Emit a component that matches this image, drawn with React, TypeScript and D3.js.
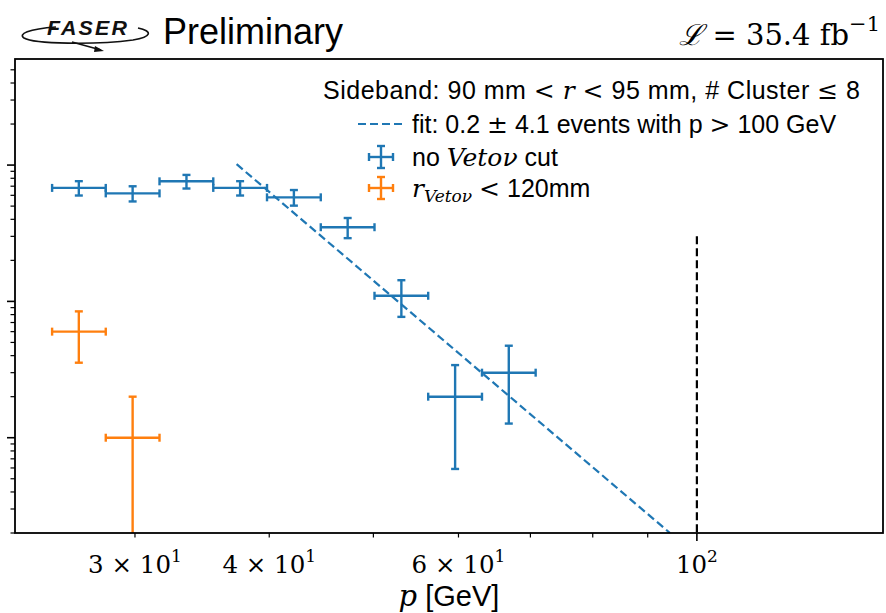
import React from 'react';
import * as d3 from 'd3';

// Bin edges (GeV) and centres
const binLow = [25.12, 28.18, 31.62, 35.48, 39.81, 44.67, 50.12, 56.23, 63.1];
const binHigh = [28.18, 31.62, 35.48, 39.81, 44.67, 50.12, 56.23, 63.1, 70.79];
const binCenter = [26.6, 29.85, 33.5, 37.58, 42.17, 47.32, 53.09, 59.57, 66.83];

// Series: no Veto-nu cut (blue)
const blueCounts = [68, 62, 76, 68, 58, 35, 11, 2, 3];
const blueErr = [8.2, 7.9, 8.7, 8.2, 7.6, 5.9, 3.3, 1.41, 1.73];

// Series: r_Vetonu < 120mm (orange), in bins 0 and 1
const orangeBins = [0, 1];
const orangeCounts = [6, 1];
const orangeErr = [2.45, 1.0];

// Fit line endpoints (p, events)
const fitP = [37.3, 94.4];
const fitN = [101.5, 0.2];

// Vertical cut line
const cutP = 100;
const cutTop = 30;

const xTicksMinor = [30, 40, 50, 60, 70, 80, 90];
const xTicksMajor = [100];
const xTickLabels = [
  { v: 30, base: '3 × 10', exp: '1' },
  { v: 40, base: '4 × 10', exp: '1' },
  { v: 60, base: '6 × 10', exp: '1' },
  { v: 100, base: '10', exp: '2' },
];
const yTicksMajor = [1, 10, 100];
const yTicksMinor = [0.2, 0.3, 0.4, 0.5, 0.6, 0.7, 0.8, 0.9, 2, 3, 4, 5, 6, 7, 8, 9, 20, 30, 40, 50, 60, 70, 80, 90, 200, 300, 400, 500];

const BLUE = '#1f77b4';
const ORANGE = '#ff7f0e';
const SANS = '"Liberation Sans", Arial, Helvetica, sans-serif';
const SERIF = '"DejaVu Serif", "Liberation Serif", serif';

export default function App() {
  const W = 886, H = 613;
  const left = 15, right = 883, top = 59, bottom = 533;
  const x = d3.scaleLog().domain([23.2, 149]).range([left, right]);
  const y = d3.scaleLog().domain([0.2, 600]).range([bottom, top]);
  const yc = (v: number) => (v <= 0.2 ? bottom : y(v));
  const cap = 4;
  const lw = 2.4;
  const LF = 25;

  const errorBar = (lo: number, hi: number, c: number, val: number, err: number, color: string, key: string) => {
    const cx = x(c);
    const cy = y(val);
    const xl = x(lo), xh = x(hi);
    const yt = yc(val + err), yb = yc(val - err);
    return (
      <g key={key} stroke={color} strokeWidth={lw} fill="none">
        <line x1={xl} x2={xh} y1={cy} y2={cy} />
        <line x1={xl} x2={xl} y1={cy - cap} y2={cy + cap} />
        <line x1={xh} x2={xh} y1={cy - cap} y2={cy + cap} />
        <line x1={cx} x2={cx} y1={yt} y2={yb} />
        <line x1={cx - cap} x2={cx + cap} y1={yt} y2={yt} />
        {val - err > 0.2 && <line x1={cx - cap} x2={cx + cap} y1={yb} y2={yb} />}
      </g>
    );
  };

  const legendCross = (cx: number, cy: number, color: string) => (
    <g stroke={color} strokeWidth={lw} fill="none">
      <line x1={cx - 12} x2={cx + 12} y1={cy} y2={cy} />
      <line x1={cx - 12} x2={cx - 12} y1={cy - cap} y2={cy + cap} />
      <line x1={cx + 12} x2={cx + 12} y1={cy - cap} y2={cy + cap} />
      <line x1={cx} x2={cx} y1={cy - 11} y2={cy + 11} />
      <line x1={cx - cap} x2={cx + cap} y1={cy - 11} y2={cy - 11} />
      <line x1={cx - cap} x2={cx + cap} y1={cy + 11} y2={cy + 11} />
    </g>
  );

  const fitLine = d3.line<number>()
    .x((_, i) => x(fitP[i]))
    .y((_, i) => y(fitN[i]))(fitP.map((_, i) => i)) || '';

  return (
    <svg width={W} height={H} style={{ position: 'absolute', left: 0, top: 0, background: '#fff' }}>
      <defs>
        <clipPath id="plotclip">
          <rect x={left} y={top} width={right - left} height={bottom - top} />
        </clipPath>
      </defs>
      <rect x={0} y={0} width={W} height={H} fill="#fff" />

      {/* FASER logo */}
      <g>
        <path d="M 56 27 C 28 29, 18 34, 24 38 C 34 44, 95 45, 133 40 C 152 37, 153 31, 138 28"
          fill="none" stroke="#111" strokeWidth={1.6} />
        <path d="M 72 42 L 101 50" stroke="#111" strokeWidth={1.6} fill="none" />
        <path d="M 95 46 L 104 51 L 94 52 Z" fill="#111" />
        <text x={47} y={35} fontFamily={SANS} fontWeight="bold" fontStyle="italic" fontSize={20}
          letterSpacing={2} fill="#111" textLength={82} lengthAdjust="spacingAndGlyphs">FASER</text>
      </g>
      <text x={163} y={44} fontFamily={SANS} fontSize={36} fill="#000">Preliminary</text>
      <text x={880} y={45} textAnchor="end" fontFamily={SERIF} fontSize={29} fill="#000">
        <tspan fontStyle="italic">ℒ</tspan> = 35.4 fb<tspan dy={-14} fontSize={21}>−1</tspan>
      </text>

      {/* data */}
      <g clipPath="url(#plotclip)">
        {blueCounts.map((v, i) => errorBar(binLow[i], binHigh[i], binCenter[i], v, blueErr[i], BLUE, 'b' + i))}
        {orangeCounts.map((v, j) => {
          const i = orangeBins[j];
          return errorBar(binLow[i], binHigh[i], binCenter[i], v, orangeErr[j], ORANGE, 'o' + j);
        })}
        <path d={fitLine} stroke={BLUE} strokeWidth={2.2} strokeDasharray="8,4" fill="none" />
        <line x1={x(cutP)} x2={x(cutP)} y1={y(cutTop)} y2={bottom} stroke="#000" strokeWidth={2.2} strokeDasharray="8,4" />
      </g>

      {/* axes */}
      <rect x={left} y={top} width={right - left} height={bottom - top} fill="none" stroke="#000" strokeWidth={1.8} />
      {yTicksMajor.map(v => <line key={'ym' + v} x1={left - 8} x2={left} y1={y(v)} y2={y(v)} stroke="#000" strokeWidth={1.6} />)}
      {yTicksMinor.map(v => <line key={'yn' + v} x1={left - 4.5} x2={left} y1={y(v)} y2={y(v)} stroke="#000" strokeWidth={1.2} />)}
      {xTicksMajor.map(v => <line key={'xm' + v} x1={x(v)} x2={x(v)} y1={bottom} y2={bottom + 8} stroke="#000" strokeWidth={1.6} />)}
      {xTicksMinor.map(v => <line key={'xn' + v} x1={x(v)} x2={x(v)} y1={bottom} y2={bottom + 4.5} stroke="#000" strokeWidth={1.2} />)}
      {xTickLabels.map(t => (
        <text key={'xl' + t.v} x={x(t.v)} y={573} textAnchor="middle" fontFamily={SERIF} fontSize={24.5} fill="#000">
          {t.base}<tspan dy={-11} fontSize={17}>{t.exp}</tspan>
        </text>
      ))}
      <text x={(left + right) / 2} y={606} textAnchor="middle" fontSize={29} fill="#000">
        <tspan fontFamily={SERIF} fontStyle="italic">p</tspan>
        <tspan fontFamily={SANS}> [GeV]</tspan>
      </text>

      {/* legend */}
      <text x={323} y={99} fontFamily={SANS} fontSize={LF} fill="#000" textLength={537} lengthAdjust="spacing">
        Sideband: 90 mm <tspan fontFamily={SERIF}>&lt;</tspan> <tspan fontFamily={SERIF} fontStyle="italic">r</tspan> <tspan fontFamily={SERIF}>&lt;</tspan> 95 mm, # Cluster <tspan fontFamily={SERIF}>≤</tspan> 8
      </text>
      <line x1={358} x2={405} y1={124} y2={124} stroke={BLUE} strokeWidth={2.2} strokeDasharray="8,4" />
      <text x={412} y={133} fontFamily={SANS} fontSize={LF} fill="#000">
        fit: 0.2 <tspan fontFamily={SERIF}>±</tspan> 4.1 events with p <tspan fontFamily={SERIF}>&gt;</tspan> 100 GeV
      </text>
      {legendCross(381, 157, BLUE)}
      <text x={412} y={166} fontFamily={SANS} fontSize={LF} fill="#000">
        no <tspan fontFamily={SERIF} fontStyle="italic">Vetoν</tspan> cut
      </text>
      {legendCross(381, 188, ORANGE)}
      <text x={412} y={197} fontFamily={SANS} fontSize={LF} fill="#000">
        <tspan fontFamily={SERIF} fontStyle="italic">r</tspan><tspan fontFamily={SERIF} fontStyle="italic" fontSize={17} dy={5}>Vetoν</tspan><tspan dy={-5}> </tspan><tspan fontFamily={SERIF}>&lt;</tspan> 120mm
      </text>
    </svg>
  );
}
